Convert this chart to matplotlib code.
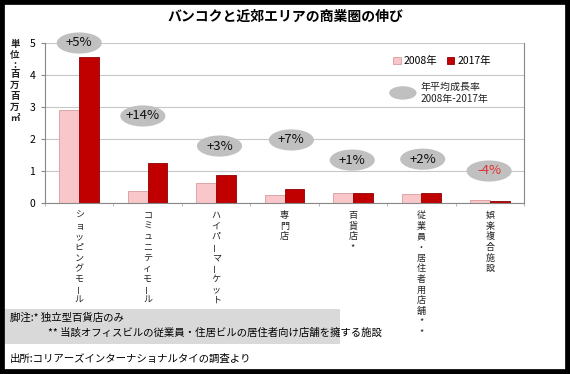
import numpy as np
import matplotlib
matplotlib.use("Agg")
import matplotlib.pyplot as plt
from matplotlib.patches import Ellipse, Rectangle

plt.rcParams['font.family'] = ['Noto Sans CJK JP', 'DejaVu Sans']

categories = ["ショッピングモール", "コミュニティモール", "ハイパーマーケット", "専門店",
              "百貨店*", "従業員・居住者用店舗**", "娯楽複合施設"]
v2008 = [2.9, 0.38, 0.63, 0.25, 0.30, 0.27, 0.10]
v2017 = [4.55, 1.26, 0.87, 0.45, 0.31, 0.31, 0.05]
growth = ["+5%", "+14%", "+3%", "+7%", "+1%", "+2%", "-4%"]
growth_x = [0.0, 0.93, 2.05, 3.1, 3.99, 5.02, 5.99]
growth_y = [5.0, 2.72, 1.78, 1.97, 1.34, 1.37, 1.0]

c08 = "#f9c6c9"
c17 = "#c00000"

fig = plt.figure(figsize=(5.7, 3.74), dpi=100)
fig.patch.set_facecolor("white")
# black frame round the picture
fig.patches.append(Rectangle((0, 0), 1, 1, transform=fig.transFigure, fill=False,
                             edgecolor="black", linewidth=7, zorder=10))

ax = fig.add_axes([45 / 570, 1 - 203 / 374, 479 / 570, 160 / 374])
x = np.arange(len(categories))
w = 0.29
ax.bar(x - w / 2, v2008, w, color=c08, edgecolor="#d89ca0", linewidth=0.6, label="2008年", zorder=2)
ax.bar(x + w / 2, v2017, w, color=c17, edgecolor="#900000", linewidth=0.6, label="2017年", zorder=2)

ax.set_xlim(-0.5, len(categories) - 0.5)
ax.set_ylim(0, 5)
ax.set_yticks([0, 1, 2, 3, 4, 5])
ax.yaxis.grid(True, color="#c8c8c8", linewidth=0.8, zorder=0)
ax.set_axisbelow(True)
ax.tick_params(axis="y", labelsize=7.5, length=3, color="#888888", pad=4)
ax.set_xticks(np.arange(-0.5, len(categories), 1.0))
ax.set_xticklabels([])
ax.tick_params(axis="x", length=2, color="#bbbbbb")
for s in ["left", "bottom", "right", "top"]:
    ax.spines[s].set_color("#888888")
    ax.spines[s].set_linewidth(0.8)
ax.spines["top"].set_visible(False)

# category labels, stacked vertically
for i, lab in enumerate(categories):
    for j, ch in enumerate(lab):
        ax.annotate(ch, xy=(i, 0), xycoords=("data", "axes fraction"),
                    xytext=(0, -9 - j * 7.65), textcoords="offset points",
                    ha="center", va="center", fontsize=6.5, color="#222222",
                    rotation=90 if ch == "ー" else 0, annotation_clip=False)

# growth ellipses
for gx, gy, g in zip(growth_x, growth_y, growth):
    ax.add_patch(Ellipse((gx, gy), 0.66, 0.66, facecolor="#c0c0c0", edgecolor="none",
                         zorder=4, clip_on=False))
    ax.text(gx, gy, g, ha="center", va="center", fontsize=9.5, zorder=5,
            color="#e03030" if g.startswith("-") else "#111111")

# legend
leg = ax.legend(loc="upper right", bbox_to_anchor=(0.95, 0.975), ncol=2, frameon=False,
                fontsize=7.5, handlelength=0.7, handleheight=0.7, handletextpad=0.3,
                columnspacing=0.9)
ax.add_patch(Ellipse((4.73, 3.44), 0.4, 0.42, facecolor="#c0c0c0", edgecolor="none", zorder=4))
ax.text(4.99, 3.44, "年平均成長率\n2008年-2017年", ha="left", va="center",
        fontsize=7.2, linespacing=1.35, zorder=5, color="#222222")

# unit label, stacked
unit = "単位:百万百万㎡"
unit_y = [44, 55, 65, 74, 85, 96, 107, 118]
for ch, yy in zip(unit, unit_y):
    fig.text(15 / 570, 1 - yy / 374, ch, ha="center", va="center", fontsize=6.8,
             fontweight="bold", color="#222222")

fig.text(0.5, 1 - 17 / 374, "バンコクと近郊エリアの商業圏の伸び", ha="center", va="center",
         fontsize=10, fontweight="bold")

# footnote box
fig.patches.append(Rectangle((5 / 570, 1 - 344 / 374), 335 / 570, 35 / 374,
                             transform=fig.transFigure, facecolor="#d9d9d9",
                             edgecolor="none", zorder=0))
fig.text(10 / 570, 1 - 318 / 374, "脚注:* 独立型百貨店のみ", fontsize=7.5, va="center")
fig.text(48 / 570, 1 - 333 / 374, "** 当該オフィスビルの従業員・住居ビルの居住者向け店舗を擁する施設",
         fontsize=7.5, va="center")
fig.text(10 / 570, 1 - 359 / 374, "出所:コリアーズインターナショナルタイの調査より",
         fontsize=7.5, va="center")

fig.savefig("out.png", dpi=100)
